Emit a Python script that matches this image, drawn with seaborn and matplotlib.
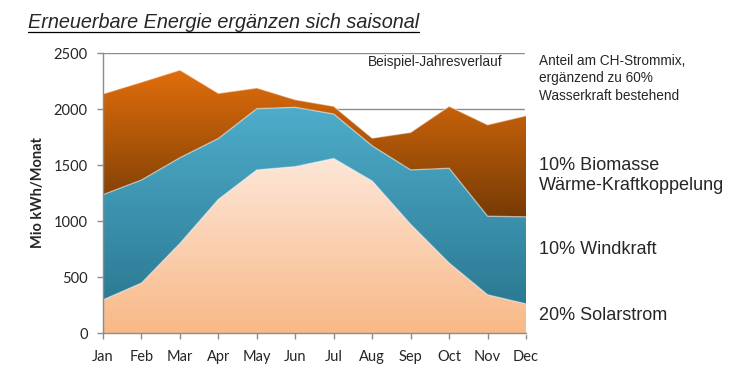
import numpy as np
import pandas as pd
import matplotlib.pyplot as plt
import seaborn as sns
from matplotlib.colors import LinearSegmentedColormap
from matplotlib.lines import Line2D

months = ["Jan", "Feb", "Mar", "Apr", "May", "Jun", "Jul", "Aug", "Sep", "Oct", "Nov", "Dec"]
# monthly production, Mio kWh (stacked from bottom)
solar = [296, 446, 800, 1193, 1456, 1486, 1558, 1357, 970, 625, 341, 260]
wind = [939, 920, 765, 544, 547, 529, 397, 314, 486, 846, 702, 777]
biomass = [900, 874, 783, 403, 185, 68, 69, 69, 335, 553, 816, 903]

df = pd.DataFrame({"month": months, "solar": solar, "wind": wind, "biomass": biomass})
df["x"] = np.arange(len(months))
df["top_solar"] = df["solar"]
df["top_wind"] = df["top_solar"] + df["wind"]
df["top_bio"] = df["top_wind"] + df["biomass"]

sns.set_style("white")
plt.rcParams["font.family"] = ["Liberation Sans", "DejaVu Sans"]

fig = plt.figure(figsize=(7.45, 3.77), dpi=100)
ax = fig.add_axes([0.1383, 0.1167, 0.5678, 0.7427])

# gridlines behind everything
ax.set_ylim(0, 2500)
ax.set_xlim(0, 11)
ax.set_yticks([0, 500, 1000, 1500, 2000, 2500])
ax.yaxis.grid(True, color="#8c8c8c", lw=1)
ax.xaxis.grid(False)
ax.set_axisbelow(True)


def gradient_area(lower, upper, c_top, c_bot):
    poly = ax.fill_between(df["x"], lower, upper, facecolor="none", edgecolor="none",
                           linewidth=0, zorder=2)
    lo, hi = np.min(lower), np.max(upper)
    cmap = LinearSegmentedColormap.from_list("g", [c_bot, c_top])
    grad = np.linspace(0, 1, 256).reshape(-1, 1)
    im = ax.imshow(grad, cmap=cmap, aspect="auto", origin="lower",
                   extent=[0, 11, lo, hi], zorder=2, interpolation="bicubic")
    im.set_clip_path(poly.get_paths()[0], transform=ax.transData)


gradient_area(np.zeros(12), df["top_solar"], "#fde6d8", "#f8b987")
gradient_area(df["top_solar"], df["top_wind"], "#4eadcb", "#2c7a93")
gradient_area(df["top_wind"], df["top_bio"], "#e06e0c", "#773b05")

# soft borders between layers
for col in ["top_solar", "top_wind", "top_bio"]:
    sns.lineplot(data=df, x="x", y=col, ax=ax, color="white", alpha=0.45, lw=1,
                 zorder=3, errorbar=None, estimator=None)

ax.set_xlim(0, 11)
ax.set_ylim(0, 2500)
ax.set_xticks(df["x"])
ax.set_xticklabels(months)
ax.set_xlabel("")
ax.set_ylabel("Mio kWh/Monat", fontsize=10.5, fontweight="bold", family="Lato", labelpad=6)
for lab in ax.get_xticklabels() + ax.get_yticklabels():
    lab.set_family("Lato")
    lab.set_fontsize(10.5)
ax.tick_params(axis="both", direction="out", length=4, color="#8c8c8c", width=1, pad=7,
               bottom=True, left=True, top=False, right=False)
ax.tick_params(axis="x", pad=8)
ax.xaxis.grid(False)
for s in ["top", "right"]:
    ax.spines[s].set_visible(False)
for s in ["left", "bottom"]:
    ax.spines[s].set_color("#8c8c8c")
    ax.spines[s].set_linewidth(1)
    ax.spines[s].set_zorder(4)

# mask the stray edge line on the right border (sits under the areas)
ax.axvline(11, color="white", lw=2.5, zorder=1.9, clip_on=False)

# annotations
fig.text(0.494, 0.836, "Beispiel-Jahresverlauf", fontsize=9.8, ha="left", va="center")
fig.text(0.723, 0.792, "Anteil am CH-Strommix,\nergänzend zu 60%\nWasserkraft bestehend",
         fontsize=9.8, ha="left", va="center", linespacing=1.3)
fig.text(0.724, 0.535, "10% Biomasse\nWärme-Kraftkoppelung", fontsize=13, ha="left",
         va="center", linespacing=1.2)
fig.text(0.724, 0.338, "10% Windkraft", fontsize=13, ha="left", va="center")
fig.text(0.724, 0.163, "20% Solarstrom", fontsize=13, ha="left", va="center")

title = fig.text(0.038, 0.925, "Erneuerbare Energie ergänzen sich saisonal",
                 fontsize=14.3, style="italic", ha="left", va="baseline")
fig.canvas.draw()
bb = title.get_window_extent().transformed(fig.transFigure.inverted())
fig.add_artist(Line2D([bb.x0, bb.x1], [0.925 - 0.01] * 2, color="black", lw=0.9,
                      transform=fig.transFigure))

fig.savefig("out.png", dpi=100)
